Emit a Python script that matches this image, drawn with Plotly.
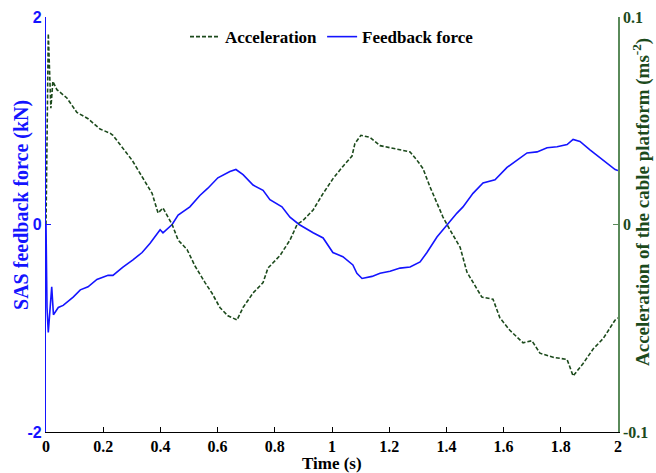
import plotly.graph_objects as go

# Feedback force (kN), left axis
t_force = [0.0, 0.0035, 0.008, 0.02, 0.026, 0.043, 0.06, 0.095, 0.12, 0.147, 0.178, 0.217,
           0.234, 0.269, 0.304, 0.336, 0.364, 0.399, 0.409, 0.441, 0.462, 0.503, 0.538, 0.566,
           0.601, 0.643, 0.664, 0.689, 0.724, 0.759, 0.783, 0.825, 0.853, 0.885, 0.934, 0.969,
           1.003, 1.038, 1.073, 1.087, 1.105, 1.140, 1.168, 1.203, 1.238, 1.273, 1.308, 1.332,
           1.367, 1.402, 1.437, 1.458, 1.483, 1.493, 1.528, 1.570, 1.612, 1.682, 1.717, 1.752,
           1.787, 1.822, 1.843, 1.867, 1.902, 1.948, 1.990, 2.0]
force = [0.0, -0.80, -1.04, -0.60, -0.87, -0.80, -0.78, -0.70, -0.63, -0.60, -0.53, -0.49,
         -0.49, -0.41, -0.34, -0.27, -0.18, -0.05, -0.08, 0.0, 0.09, 0.17, 0.28, 0.35,
         0.45, 0.51, 0.53, 0.48, 0.38, 0.33, 0.24, 0.17, 0.07, 0.0, -0.08, -0.13,
         -0.27, -0.31, -0.39, -0.47, -0.52, -0.50, -0.47, -0.45, -0.42, -0.41, -0.36, -0.27,
         -0.12, 0.0, 0.11, 0.17, 0.27, 0.30, 0.40, 0.43, 0.55, 0.69, 0.70, 0.74,
         0.75, 0.77, 0.82, 0.80, 0.72, 0.62, 0.53, 0.52]

# Acceleration of the cable platform (m/s^2), right axis
t_acc = [0.0, 0.008, 0.017, 0.024, 0.038, 0.073, 0.108, 0.147, 0.189, 0.224, 0.234, 0.269,
         0.301, 0.336, 0.371, 0.392, 0.409, 0.441, 0.462, 0.493, 0.521, 0.556, 0.580, 0.608,
         0.636, 0.668, 0.689, 0.724, 0.759, 0.776, 0.818, 0.853, 0.878, 0.899, 0.934, 0.969,
         1.003, 1.038, 1.070, 1.080, 1.101, 1.133, 1.168, 1.203, 1.238, 1.273, 1.297, 1.318,
         1.343, 1.367, 1.388, 1.413, 1.448, 1.472, 1.493, 1.524, 1.563, 1.587, 1.622, 1.668,
         1.699, 1.727, 1.773, 1.822, 1.843, 1.878, 1.913, 1.948, 1.990, 2.0]
acc = [0.0, 0.092, 0.056, 0.069, 0.065, 0.061, 0.054, 0.051, 0.046, 0.044, 0.043, 0.037,
       0.031, 0.023, 0.015, 0.0055, 0.008, 0.0, -0.0075, -0.012, -0.020, -0.028, -0.033, -0.040,
       -0.044, -0.046, -0.040, -0.033, -0.028, -0.021, -0.015, -0.0075, 0.0, 0.002, 0.007, 0.015,
       0.022, 0.028, 0.033, 0.039, 0.043, 0.042, 0.038, 0.037, 0.036, 0.035, 0.031, 0.027,
       0.018, 0.010, 0.0036, -0.0027, -0.011, -0.023, -0.028, -0.035, -0.036, -0.045, -0.051, -0.057,
       -0.056, -0.062, -0.064, -0.065, -0.073, -0.067, -0.060, -0.055, -0.046, -0.045]

x_ticks = [0, 0.2, 0.4, 0.6, 0.8, 1, 1.2, 1.4, 1.6, 1.8, 2]
x_tick_labels = ["0", "0.2", "0.4", "0.6", "0.8", "1", "1.2", "1.4", "1.6", "1.8", "2"]
y1_ticks = [-2, 0, 2]
y1_tick_labels = ["-2", "0", "2"]
y2_ticks = [-0.1, 0, 0.1]
y2_tick_labels = ["-0.1", "0", "0.1"]

BLUE = "#1414ff"
GREEN = "#1c4a1c"
GREEN_AX = "#5a8a5a"
SERIF = "Liberation Serif"
NARROW = "Liberation Sans Narrow"

fig = go.Figure()
fig.add_trace(go.Scatter(x=t_acc, y=acc, name="Acceleration", yaxis="y2", mode="lines",
                         line=dict(color=GREEN, width=1.6, dash="4px,2px")))
fig.add_trace(go.Scatter(x=t_force, y=force, name="Feedback force", yaxis="y", mode="lines",
                         line=dict(color=BLUE, width=1.6)))

fig.update_layout(
    width=656, height=473,
    margin=dict(l=46, r=38, t=17, b=41),
    paper_bgcolor="white", plot_bgcolor="white",
    font=dict(family=SERIF, size=14, color="black"),
    showlegend=True,
    legend=dict(orientation="h", x=0.5, xanchor="center", y=0.995, yanchor="top",
                bgcolor="rgba(0,0,0,0)", font=dict(family=SERIF, size=17, color="black", weight="bold"),
                itemwidth=30, tracegroupgap=0),
    xaxis=dict(range=[0, 2], tickvals=x_ticks, ticktext=x_tick_labels, automargin=False,
               showline=True, linecolor="black", linewidth=1, mirror=False,
               ticks="inside", ticklen=5, tickcolor="black", showgrid=False, zeroline=False,
               tickfont=dict(family=SERIF, size=16, color="black", weight="bold")),
    yaxis=dict(range=[-2, 2], tickvals=y1_ticks, ticktext=y1_tick_labels, automargin=False,
               showline=True, linecolor=BLUE, linewidth=1.2,
               ticks="inside", ticklen=5, tickcolor=BLUE, showgrid=False, zeroline=False,
               tickfont=dict(family="Liberation Sans", size=16, color=BLUE, weight="bold")),
    yaxis2=dict(range=[-0.1, 0.1], tickvals=y2_ticks, ticktext=y2_tick_labels, automargin=False,
                overlaying="y", side="right", showline=True, linecolor=GREEN_AX, linewidth=1.5,
                ticks="inside", ticklen=5, tickcolor=GREEN_AX, showgrid=False, zeroline=False,
                tickfont=dict(family=SERIF, size=16, color=GREEN, weight="bold")),
    annotations=[
        dict(text="Time (s)", xref="paper", yref="paper", x=0.5, y=-0.077,
             xanchor="center", yanchor="middle", showarrow=False,
             font=dict(family=SERIF, size=17, color="black", weight="bold")),
        dict(text="SAS feedback force (kN)", xref="paper", yref="paper", x=-0.042, y=0.547,
             xanchor="center", yanchor="middle", showarrow=False, textangle=-90,
             font=dict(family=NARROW, size=20, color=BLUE, weight="bold")),
        dict(text="Acceleration of the cable platform (ms<sup>-2</sup>)", xref="paper", yref="paper",
             x=1.040, y=0.554, xanchor="center", yanchor="middle", showarrow=False, textangle=-90,
             font=dict(family=SERIF, size=19, color=GREEN, weight="bold")),
    ],
)

fig.write_html("out.html")
